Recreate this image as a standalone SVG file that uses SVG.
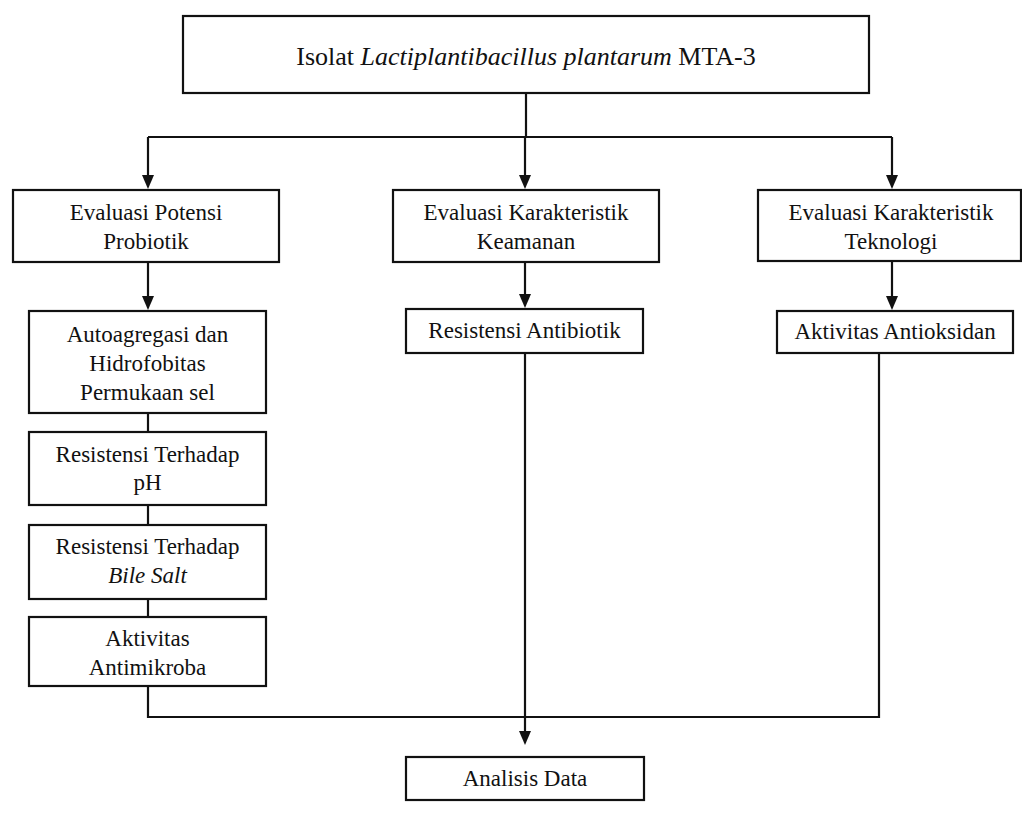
<svg xmlns="http://www.w3.org/2000/svg" width="1022" height="840" viewBox="0 0 1022 840">
<defs>
<style>
.box{fill:#fff;stroke:#111;stroke-width:2.2}
.t{font-family:"Liberation Serif","Times New Roman",serif;font-size:23px;fill:#111;text-anchor:middle}
.tt{font-family:"Liberation Serif","Times New Roman",serif;font-size:26px;fill:#111;text-anchor:middle}
.c{fill:none;stroke:#111;stroke-width:2.2}
</style>
<marker id="ah" viewBox="0 0 14 12" markerWidth="14" markerHeight="12" refX="4" refY="6" orient="auto" markerUnits="userSpaceOnUse">
<path d="M0,0 L14,6 L0,12 z" fill="#111"/>
</marker>
</defs>
<rect width="1022" height="840" fill="#fff"/>
<g id="connectors">
<path class="c" d="M526,93 V137"/>
<path class="c" d="M148,137 H892"/>
<path class="c" d="M148,137 V179" marker-end="url(#ah)"/>
<path class="c" d="M525,137 V179" marker-end="url(#ah)"/>
<path class="c" d="M892,137 V179" marker-end="url(#ah)"/>
<path class="c" d="M148,262 V300" marker-end="url(#ah)"/>
<path class="c" d="M525,262 V298" marker-end="url(#ah)"/>
<path class="c" d="M892,261 V300" marker-end="url(#ah)"/>
<path class="c" d="M148,413 V432"/>
<path class="c" d="M148,505 V525"/>
<path class="c" d="M148,599 V617"/>
<path class="c" d="M148,686 V717 H879 V353"/>
<path class="c" d="M525,353 V735" marker-end="url(#ah)"/>
</g>
<g id="n-isolat">
<rect class="box" x="183" y="16" width="686" height="77"/>
<text class="tt" x="526" y="65">Isolat <tspan font-style="italic">Lactiplantibacillus plantarum</tspan> MTA-3</text>
</g>
<g id="n-probiotik">
<rect class="box" x="13" y="190" width="266" height="72"/>
<text class="t" x="146" y="220">Evaluasi Potensi</text>
<text class="t" x="146" y="249">Probiotik</text>
</g>
<g id="n-keamanan">
<rect class="box" x="393" y="190" width="266" height="72"/>
<text class="t" x="526" y="220">Evaluasi Karakteristik</text>
<text class="t" x="526" y="249">Keamanan</text>
</g>
<g id="n-teknologi">
<rect class="box" x="758" y="190" width="263" height="71"/>
<text class="t" x="891" y="220">Evaluasi Karakteristik</text>
<text class="t" x="891" y="249">Teknologi</text>
</g>
<g id="n-autoagregasi">
<rect class="box" x="29" y="311" width="237" height="102"/>
<text class="t" x="147.5" y="342">Autoagregasi dan</text>
<text class="t" x="147.5" y="371">Hidrofobitas</text>
<text class="t" x="147.5" y="400">Permukaan sel</text>
</g>
<g id="n-ph">
<rect class="box" x="29" y="432" width="237" height="73"/>
<text class="t" x="147.5" y="462">Resistensi Terhadap</text>
<text class="t" x="147.5" y="490">pH</text>
</g>
<g id="n-bile">
<rect class="box" x="29" y="525" width="237" height="74"/>
<text class="t" x="147.5" y="554">Resistensi Terhadap</text>
<text class="t" x="147.5" y="583" font-style="italic">Bile Salt</text>
</g>
<g id="n-antimikroba">
<rect class="box" x="29" y="617" width="237" height="69"/>
<text class="t" x="147.5" y="646">Aktivitas</text>
<text class="t" x="147.5" y="675">Antimikroba</text>
</g>
<g id="n-antibiotik">
<rect class="box" x="406" y="309" width="237" height="44"/>
<text class="t" x="524.5" y="338">Resistensi Antibiotik</text>
</g>
<g id="n-antioksidan">
<rect class="box" x="777" y="311" width="236" height="42"/>
<text class="t" x="895" y="339">Aktivitas Antioksidan</text>
</g>
<g id="n-analisis">
<rect class="box" x="406" y="757" width="238" height="43"/>
<text class="t" x="525" y="786">Analisis Data</text>
</g>
</svg>
